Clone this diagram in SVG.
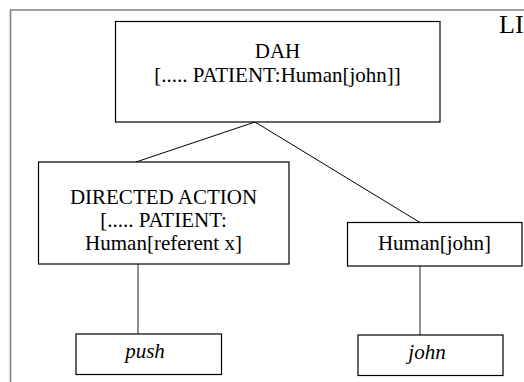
<svg xmlns="http://www.w3.org/2000/svg" width="524" height="382" viewBox="0 0 524 382">
  <style>
    .box { fill: #ffffff; stroke: #000000; stroke-width: 1.2; }
    .txt { font-size: 21px; fill: #000000; text-anchor: middle; }
    .it { font-style: italic; }
    .edge { stroke: #000000; stroke-width: 1; fill: none; }
    .stem { stroke: #555555; stroke-width: 1.3; fill: none; }
  </style>
  <rect width="524" height="382" fill="#ffffff"/>

  <g font-family="Liberation Serif, 'Times New Roman', serif">
    <!-- outer frame (open at right and bottom) -->
    <path d="M10.5,382 V10 H524" fill="none" stroke="#808080" stroke-width="1.6"/>
    <text x="499" y="32.5" font-size="26" fill="#000">LI</text>

    <g id="connectors">
      <line class="edge" x1="255" y1="122" x2="136" y2="162"/>
      <line class="edge" x1="255" y1="122" x2="420" y2="222.5"/>
      <line class="stem" x1="138" y1="264" x2="138" y2="334"/>
      <line class="stem" x1="420" y1="266" x2="420" y2="335"/>
    </g>

    <g id="dah">
      <rect class="box" x="115.5" y="21.5" width="324.5" height="100.5"/>
      <text class="txt" x="277.5" y="58">DAH</text>
      <text class="txt" x="277.5" y="82">[..... PATIENT:Human[john]]</text>
    </g>

    <g id="directed-action">
      <rect class="box" x="38.5" y="162" width="250.5" height="102"/>
      <text class="txt" x="163.5" y="204">DIRECTED ACTION</text>
      <text class="txt" x="163.5" y="227">[..... PATIENT:</text>
      <text class="txt" x="163.5" y="250">Human[referent x]</text>
    </g>

    <g id="human-john">
      <rect class="box" x="347.5" y="222.5" width="174.5" height="43.5"/>
      <text class="txt" x="434.5" y="250">Human[john]</text>
    </g>

    <g id="push">
      <rect class="box" x="76" y="334" width="145.5" height="40.5"/>
      <text class="txt it" x="145" y="358">push</text>
    </g>

    <g id="john">
      <rect class="box" x="358" y="335" width="145" height="40.5"/>
      <text class="txt it" x="427" y="359">john</text>
    </g>
  </g>
</svg>
